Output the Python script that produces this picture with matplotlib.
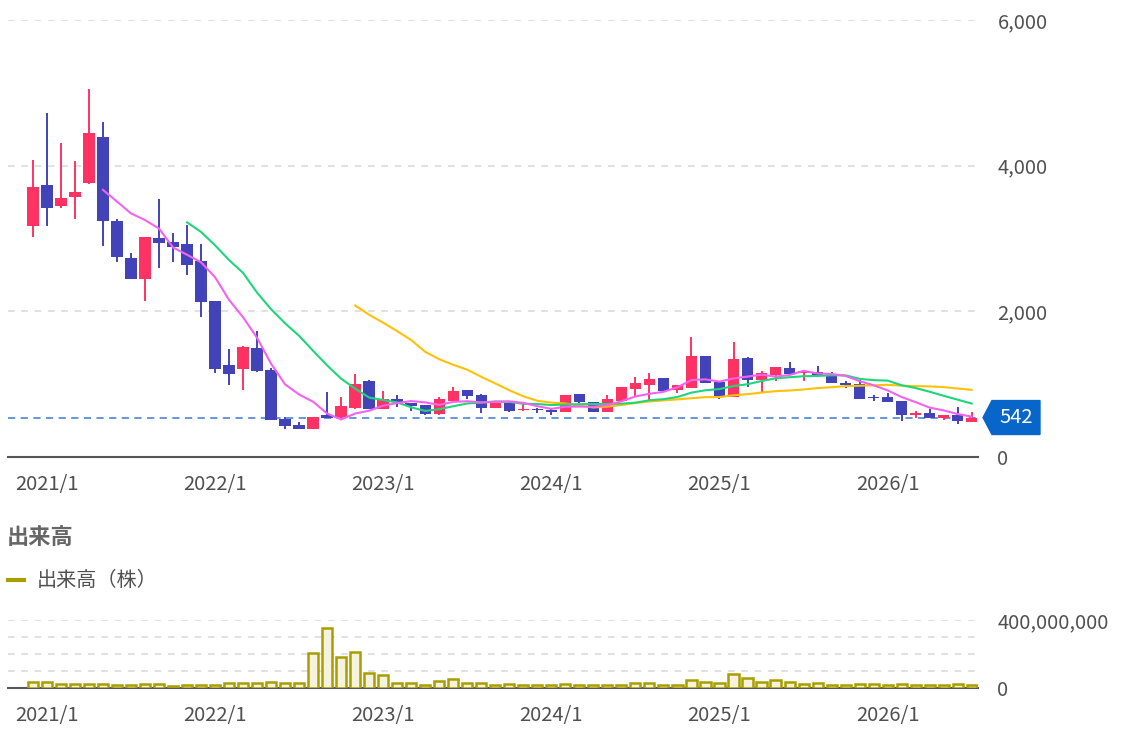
import matplotlib
matplotlib.use('Agg')
import matplotlib.pyplot as plt
import matplotlib.transforms as mtransforms
from matplotlib.patches import Polygon
from matplotlib.lines import Line2D
from matplotlib.ticker import FuncFormatter

plt.rcParams['font.family'] = ['Noto Sans CJK JP', 'DejaVu Sans']

# monthly candles, first one is 2020/12
tick_pos = [1, 13, 25, 37, 49, 61]
tick_labels = ['2021/1', '2022/1', '2023/1', '2024/1', '2025/1', '2026/1']

opens = [3172, 3734, 3442, 3574, 3757, 4389, 3236, 2737, 2440, 3007,
         2948, 2929, 2691, 2146, 1259, 1208, 1501, 1194, 517, 435,
         380, 572, 545, 677, 1043, 654, 792, 741, 714, 586,
         769, 915, 851, 668, 741, 641, 664, 645, 613, 860,
         760, 613, 773, 934, 984, 1080, 920, 943, 1387, 1030,
         819, 1364, 1053, 1126, 1218, 1149, 1172, 1126, 1016, 998,
         828, 824, 773, 572, 604, 531, 572, 485]
highs = [4078, 4719, 4307, 4064, 5053, 4595, 3272, 2805, 3016, 3547,
         3076, 3185, 2924, 2146, 1487, 1520, 1730, 1218, 553, 480,
         553, 892, 824, 1135, 1061, 906, 851, 741, 720, 828,
         957, 915, 860, 741, 741, 728, 670, 664, 851, 860,
         760, 847, 966, 1098, 1157, 1080, 993, 1643, 1387, 1030,
         1575, 1370, 1185, 1240, 1309, 1194, 1249, 1163, 1044, 1057,
         856, 883, 773, 636, 659, 580, 682, 618]
lows = [3025, 3176, 3423, 3263, 3745, 2901, 2681, 2440, 2146, 2599,
        2677, 2503, 1926, 1158, 984, 920, 1163, 508, 380, 380,
        380, 530, 540, 660, 663, 654, 682, 632, 572, 570,
        769, 801, 609, 668, 618, 627, 600, 572, 613, 745,
        623, 613, 773, 828, 783, 911, 874, 943, 1020, 792,
        819, 966, 892, 1048, 1140, 1048, 1126, 1012, 943, 801,
        765, 760, 499, 531, 531, 504, 449, 485]
closes = [3707, 3419, 3560, 3634, 4444, 3236, 2750, 2440, 3016, 2934,
          2883, 2640, 2124, 1208, 1144, 1510, 1181, 508, 426, 380,
          545, 535, 696, 998, 663, 792, 759, 700, 590, 792,
          911, 842, 668, 741, 632, 664, 641, 618, 847, 751,
          623, 792, 961, 1012, 1071, 911, 993, 1387, 1020, 828,
          1341, 1053, 1149, 1236, 1140, 1177, 1126, 1012, 988, 801,
          805, 760, 572, 600, 531, 572, 494, 542]
volumes = [35e6, 35e6, 22e6, 22e6, 23e6, 22e6, 16e6, 16e6, 22e6, 22e6,
           14e6, 18e6, 18e6, 20e6, 27e6, 27e6, 27e6, 33e6, 31e6, 27e6,
           204e6, 355e6, 184e6, 212e6, 90e6, 76e6, 31e6, 27e6, 20e6, 39e6,
           51e6, 27e6, 31e6, 20e6, 23e6, 18e6, 18e6, 18e6, 23e6, 18e6,
           18e6, 18e6, 20e6, 29e6, 29e6, 18e6, 18e6, 49e6, 37e6, 29e6,
           84e6, 59e6, 37e6, 47e6, 37e6, 25e6, 31e6, 18e6, 18e6, 25e6,
           22e6, 18e6, 25e6, 20e6, 18e6, 18e6, 25e6, 20e6]

# moving averages as drawn (6, 12 and 24 months)
ma6_start = 5
ma6 = [3667, 3507, 3344, 3253, 3137, 2877, 2777, 2673, 2468, 2156,
       1918, 1635, 1279, 996, 858, 758, 596, 515, 597, 636,
       705, 741, 768, 750, 716, 757, 766, 750, 757, 764,
       743, 698, 661, 691, 692, 691, 712, 765, 831, 868,
       895, 957, 1056, 1066, 1035, 1080, 1104, 1130, 1105, 1125,
       1183, 1147, 1140, 1113, 1041, 985, 915, 823, 754, 678,
       640, 590, 554]
ma12_start = 11
ma12 = [3222, 3090, 2906, 2704, 2527, 2256, 2028, 1835, 1663, 1457,
        1257, 1075, 938, 816, 782, 749, 682, 633, 656, 697,
        735, 746, 763, 757, 730, 728, 713, 721, 725, 728,
        728, 732, 746, 779, 794, 824, 884, 916, 933, 974,
        999, 1043, 1080, 1095, 1109, 1113, 1122, 1121, 1073, 1055,
        1049, 985, 947, 896, 840, 787, 734]
ma24_start = 23
ma24 = [2080, 1953, 1844, 1727, 1605, 1444, 1342, 1266, 1199, 1101,
        1010, 916, 834, 772, 747, 735, 703, 680, 692, 714,
        741, 762, 778, 791, 807, 822, 823, 847, 862, 885,
        904, 913, 927, 946, 958, 973, 978, 985, 991, 980,
        973, 969, 960, 941, 921]

up_color = '#ff3363'
down_color = '#4343b9'
olive = '#a89e00'
text_color = '#505050'
grid_color = '#dcdcdc'

W, H = 1122, 729
fig = plt.figure(figsize=(W / 100, H / 100), dpi=100)


def px_axes(x0, y0, x1, y1):
    return fig.add_axes([x0 / W, 1 - y1 / H, (x1 - x0) / W, (y1 - y0) / H])


n = len(closes)
idx = list(range(n))
xlim = (-1.78, 67.45)

# ---- price pane ----
ax = px_axes(8, 20, 978, 457)
colors = [up_color if c >= o else down_color for o, c in zip(opens, closes)]
ax.vlines(idx, lows, highs, colors=colors, linewidth=1.4, zorder=2)
bottoms = [min(o, c) for o, c in zip(opens, closes)]
heights = [max(abs(c - o), 14) for o, c in zip(opens, closes)]
ax.bar(idx, heights, bottom=bottoms, width=0.82, color=colors, linewidth=0, zorder=3)

ax.plot(range(ma24_start, ma24_start + len(ma24)), ma24, color='#ffc107', lw=1.5, zorder=4)
ax.plot(range(ma12_start, ma12_start + len(ma12)), ma12, color='#1ed67a', lw=1.5, zorder=4)
ax.plot(range(ma6_start, ma6_start + len(ma6)), ma6, color='#f562f0', lw=1.5, zorder=4)

last = closes[-1]
ax.axhline(last, color='#5a8fd8', lw=1.3, ls=(0, (4, 3)), zorder=1)

ax.set_xlim(*xlim)
ax.set_ylim(0, 6000)
ax.set_yticks([0, 2000, 4000, 6000])
ax.yaxis.set_major_formatter(FuncFormatter(lambda v, p: f'{v:,.0f}'))
ax.yaxis.tick_right()
ax.set_xticks(tick_pos)
ax.set_xticklabels(tick_labels)
ax.tick_params(axis='both', length=0, labelsize=14.5, colors=text_color)
ax.tick_params(axis='y', pad=14)
ax.tick_params(axis='x', pad=12)
for v in [2000, 4000, 6000]:
    ax.axhline(v, color=grid_color, lw=1.2, ls=(0, (4, 4)), zorder=0)
for s in ['top', 'left', 'right']:
    ax.spines[s].set_visible(False)
ax.spines['bottom'].set_color('#555555')
ax.spines['bottom'].set_linewidth(1.5)

# price tag for the last close
tr = mtransforms.blended_transform_factory(ax.transAxes, ax.transData)
dy = 233
tag = Polygon([(1.0052, last), (1.0144, last + dy), (1.0639, last + dy),
               (1.0639, last - dy), (1.0144, last - dy)],
              closed=True, transform=tr, clip_on=False, color='#0865c9', zorder=5)
ax.add_patch(tag)
ax.text(1.039, last, f'{last}', transform=tr, color='white', fontsize=14.5,
        ha='center', va='center', zorder=6)

# ---- volume pane ----
fig.text(7 / W, 1 - 537 / H, '出来高', fontsize=16, fontweight='bold',
         color='#666666', va='center', ha='left')
fig.add_artist(Line2D([8 / W, 24 / W], [1 - 580 / H, 1 - 580 / H], color=olive, lw=3))
fig.text(37 / W, 1 - 580 / H, '出来高（株）', fontsize=14.5, color=text_color,
         va='center', ha='left')

vax = px_axes(8, 620, 978, 688)
vax.bar(idx, volumes, width=0.72, color='#f5f2df', edgecolor=olive, linewidth=1.8, zorder=3)
vax.set_xlim(*xlim)
vax.set_ylim(0, 400e6)
for v in [100e6, 200e6, 300e6, 400e6]:
    vax.axhline(v, color=grid_color, lw=1.2, ls=(0, (4, 4)), zorder=0)
vax.set_yticks([0, 400e6])
vax.yaxis.set_major_formatter(FuncFormatter(lambda v, p: f'{v:,.0f}'))
vax.yaxis.tick_right()
vax.set_xticks(tick_pos)
vax.set_xticklabels(tick_labels)
vax.tick_params(axis='both', length=0, labelsize=14.5, colors=text_color)
vax.tick_params(axis='y', pad=14)
vax.tick_params(axis='x', pad=12)
for s in ['top', 'left', 'right']:
    vax.spines[s].set_visible(False)
vax.spines['bottom'].set_color('#555555')
vax.spines['bottom'].set_linewidth(1.5)

fig.savefig('out.png', dpi=100)
